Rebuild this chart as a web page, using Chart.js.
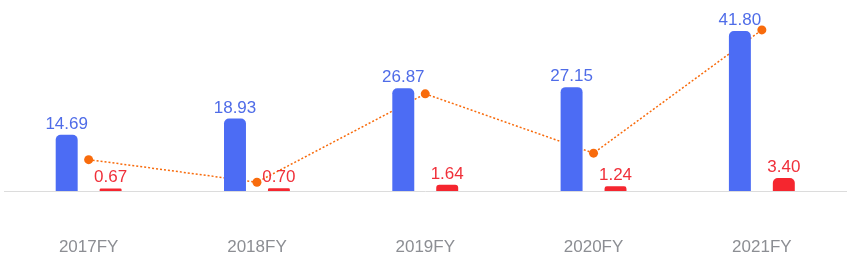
<!DOCTYPE html>
<html>
<head>
<meta charset="utf-8">
<script src="https://cdn.jsdelivr.net/npm/chart.js@4/dist/chart.umd.min.js"></script>
<style>
  html, body { margin: 0; padding: 0; background: #fff; overflow: hidden; }
  canvas { display: block; }
</style>
</head>
<body>
<canvas id="c" width="865" height="271"></canvas>
<script>
// Daten
const categories = ["2017FY", "2018FY", "2019FY", "2020FY", "2021FY"];
const blueValues = [14.69, 18.93, 26.87, 27.15, 41.80];
const redValues = [0.67, 0.70, 1.64, 1.24, 3.40];
const lineValues = [8.2, 2.3, 25.4, 9.9, 42.1];

const BLUE = "#4c6cf4";
const RED = "#f5262f";
const ORANGE = "#f86b0c";

// Werte über die Balken schreiben
const valueLabels = {
  id: "valueLabels",
  afterDatasetsDraw(chart) {
    const ctx = chart.ctx;
    ctx.save();
    ctx.font = "17px 'Liberation Sans', Arial, sans-serif";
    ctx.textAlign = "center";
    ctx.textBaseline = "alphabetic";
    chart.data.datasets.forEach((ds, i) => {
      if (ds.type === "line") return;
      const meta = chart.getDatasetMeta(i);
      ctx.fillStyle = ds.labelColor;
      meta.data.forEach((bar, j) => {
        ctx.fillText(ds.data[j].toFixed(2), bar.x, bar.y - 6);
      });
    });
    ctx.restore();
  }
};

new Chart(document.getElementById("c"), {
  type: "bar",
  data: {
    labels: categories,
    datasets: [
      {
        type: "line",
        data: lineValues,
        yAxisID: "y2",
        borderColor: ORANGE,
        borderWidth: 1.5,
        borderDash: [2, 2],
        pointRadius: 4.5,
        pointBackgroundColor: ORANGE,
        pointBorderWidth: 0,
        fill: false,
        tension: 0,
        order: 3
      },
      {
        data: blueValues,
        backgroundColor: BLUE,
        labelColor: "#4f6ce8",
        borderRadius: { topLeft: 5, topRight: 5 },
        borderSkipped: "bottom",
        categoryPercentage: 0.522,
        barPercentage: 0.5,
        order: 1
      },
      {
        data: redValues,
        backgroundColor: RED,
        labelColor: "#f0303a",
        borderRadius: { topLeft: 5, topRight: 5 },
        borderSkipped: "bottom",
        categoryPercentage: 0.522,
        barPercentage: 0.5,
        minBarLength: 2.5,
        order: 1
      }
    ]
  },
  options: {
    responsive: false,
    animation: false,
    layout: { padding: { top: 0, bottom: 0, left: 4, right: 19 } },
    plugins: {
      legend: { display: false },
      tooltip: { enabled: false }
    },
    scales: {
      x: {
        grid: { display: false, drawTicks: false },
        border: { display: true, color: "#dcdcdc", width: 1 },
        ticks: {
          color: "#8c8e93",
          font: { size: 17, family: "'Liberation Sans', Arial, sans-serif" },
          padding: 46
        },
        afterFit(scale) { scale.height = 80; }
      },
      y: {
        display: false,
        min: 0,
        max: 48.75
      },
      y2: {
        display: false,
        min: 0,
        max: 48.75
      }
    }
  },
  plugins: [valueLabels]
});
</script>
</body>
</html>
